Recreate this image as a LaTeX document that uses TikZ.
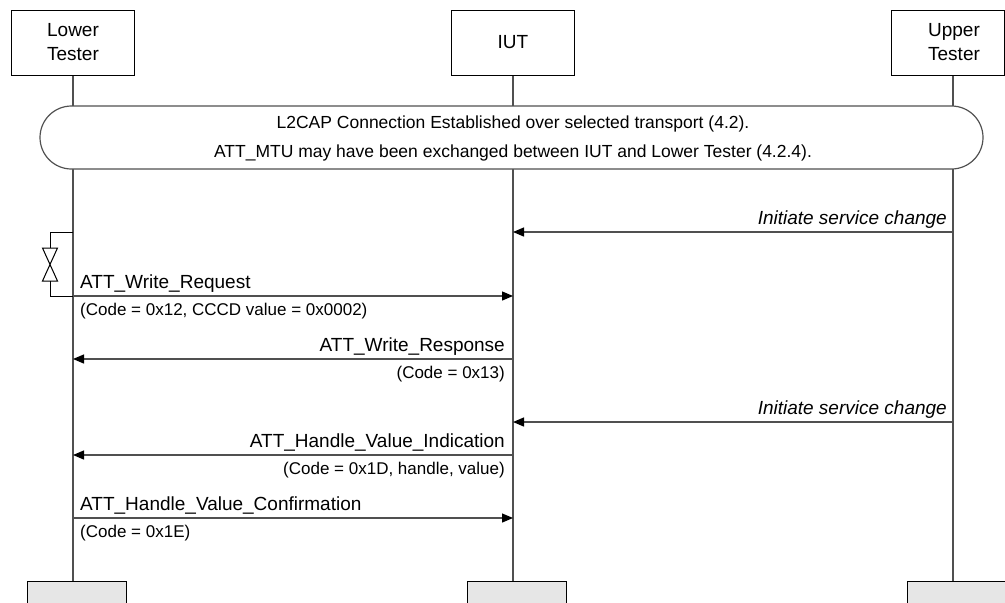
\documentclass[tikz,border=0pt]{standalone}
\usepackage{fontspec}
\setmainfont{Liberation Sans}
\usetikzlibrary{arrows.meta}
\definecolor{lline}{RGB}{80,80,80}
\definecolor{boxgray}{RGB}{230,230,230}
\begin{document}
\begin{tikzpicture}[x=1pt,y=-1pt,
 headbox/.style={draw=black,line width=1pt,fill=white,minimum height=65pt,inner sep=0pt},
 headtxt/.style={align=center,inner sep=0pt,font=\fontsize{19}{24}\selectfont},
 footbox/.style={draw=black,line width=1pt,fill=boxgray,minimum width=99pt,minimum height=30pt,inner sep=0pt,anchor=north west},
 life/.style={draw=lline,line width=1.6pt},
 msg/.style={draw=lline,line width=1.3pt,-{Triangle[length=11pt,width=9pt,fill=black,color=black]}},
 mainlbl/.style={font=\fontsize{19}{24}\selectfont,inner sep=0pt},
 sublbl/.style={font=\fontsize{17}{20}\selectfont,inner sep=0pt},
 conntxt/.style={font=\fontsize{17.5}{20}\selectfont,inner sep=0pt,anchor=base},
 timer/.style={draw=black,line width=1pt},
]
\useasboundingbox (0,0) rectangle (1005,603);
% head boxes
\node[headbox,minimum width=123pt] (lt) at (73,42.5) {};
\node[headbox,minimum width=123pt] (iut) at (513,42.5) {};
\node[headbox,minimum width=113pt] (ut) at (947.5,42.5) {};
% foot boxes
\node[footbox] (ltf) at (27,581) {};
\node[footbox] (iutf) at (467,581) {};
\node[footbox] (utf) at (907,581) {};
% lifelines
\draw[life] (lt.south) -- (lt.south |- ltf.north);
\draw[life] (iut.south) -- (iut.south |- iutf.north);
\draw[life] (953,75) -- (953,581);
% redraw boxes on top
\node[headbox,minimum width=123pt] at (73,42.5) {};
\node[headtxt] (ltt) at (73,42.5) {Lower\\Tester};
\node[headbox,minimum width=123pt] at (513,42.5) {};
\node[headtxt] (iutt) at (513,42.5) {IUT};
\node[headbox,minimum width=113pt] at (947.5,42.5) {};
\node[headtxt] (utt) at (954,42.5) {Upper\\Tester};
\node[footbox] at (27,581) {};
\node[footbox] at (467,581) {};
\node[footbox] at (907,581) {};
% connection box
\node[draw=lline,line width=1.2pt,fill=white,rounded corners=31.5pt,minimum width=943pt,minimum height=63pt,inner sep=0pt] (conn) at (511.5,137.5) {};
\node[conntxt] (c1) at (513,128.5) {L2CAP Connection Established over selected transport (4.2).};
\node[conntxt] (c2) at (513,157) {ATT\_MTU may have been exchanged between IUT and Lower Tester (4.2.4).};
% coordinates on lifelines
\foreach \n/\y in {1/232,2/296,3/359,4/422,5/455,6/518}{
  \coordinate (a\n) at (73,\y);
  \coordinate (b\n) at (513,\y);
  \coordinate (c\n) at (953,\y);
}
% message 1
\draw[msg] (c1) -- (b1);
\node[mainlbl,anchor=base east] (m1) at (947,224) {\itshape Initiate service change};
% timer
\coordinate (t0) at (50,232);
\coordinate (t1) at (50,248);
\coordinate (t2) at (50,281);
\coordinate (t3) at (50,296);
\draw[timer] (a1) -- (t0) -- (t1);
\draw[timer] (t1) -- ++(-7.5,0) -- ++(15,33) -- ++(-15,0) -- ++(15,-33) -- cycle;
\draw[timer] (t2) -- (t3) -- (a2);
% message 2
\draw[msg] (a2) -- (b2);
\node[mainlbl,anchor=base west] (m2) at (80,288) {ATT\_Write\_Request};
\node[sublbl,anchor=base west] (s2) at (80,315) {(Code = 0x12, CCCD value = 0x0002)};
% message 3
\draw[msg] (b3) -- (a3);
\node[mainlbl,anchor=base east] (m3) at (505,351) {ATT\_Write\_Response};
\node[sublbl,anchor=base east] (s3) at (505,378) {(Code = 0x13)};
% message 4
\draw[msg] (c4) -- (b4);
\node[mainlbl,anchor=base east] (m4) at (947,414) {\itshape Initiate service change};
% message 5
\draw[msg] (b5) -- (a5);
\node[mainlbl,anchor=base east] (m5) at (505,447) {ATT\_Handle\_Value\_Indication};
\node[sublbl,anchor=base east] (s5) at (505,474) {(Code = 0x1D, handle, value)};
% message 6
\draw[msg] (a6) -- (b6);
\node[mainlbl,anchor=base west] (m6) at (80,510) {ATT\_Handle\_Value\_Confirmation};
\node[sublbl,anchor=base west] (s6) at (80,537) {(Code = 0x1E)};
\end{tikzpicture}
\end{document}
